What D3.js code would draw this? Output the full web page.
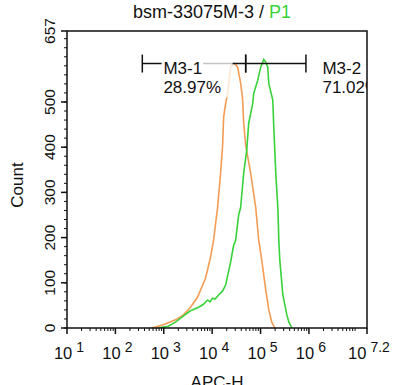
<!DOCTYPE html>
<head>
	<script src="https://d3js.org/d3.v7.min.js"></script>
	<style>
		body { margin: 0; background: #fff; }
		text { font-family: "Liberation Sans", Arial, sans-serif; fill: #111; }
	</style>
</head>
<body>
<svg></svg>
<script>
	// APC-H value, count
	var orange = [[527,0],[670,2],[982,7],[1742,18],[2552,29],[3566,46],[4980,68],[7295,110],[9268,157],
		[10690,194],[12950,267],[14930,342],[16440,404],[17250,466],[18970,497],[20890,519],[24100,577],
		[26500,585],[29170,585],[33650,577],[38820,541],[42760,504],[44800,453],[49300,404],[62650,342],
		[79400,267],[91800,194],[105900,150],[128200,84],[147900,40],[170600,13],[197000,0]];
	var green = [[773,0],[982,2],[1245,4],[1742,13],[2552,27],[3566,38],[5224,46],[6500,52],[8035,62],[9000,58],
		[10190,66],[11500,64],[13580,73],[16440,82],[18970,95],[24100,146],[27800,183],[30550,194],[35300,250],
		[38820,267],[44800,342],[51750,393],[56900,453],[68900,497],[72300,519],[87500,548],[101000,577],
		[116500,594],[128200,588],[141000,577],[147900,541],[179000,504],[187800,444],[197000,393],
		[206600,342],[227500,267],[238600,194],[250000,150],[289000,73],[350000,29],[384600,13],[443600,0]];
	var xExps = [1, 2, 3, 4, 5, 6, 7.2];
	var yTicks = [0, 100, 200, 300, 400, 500, 657];
	var gates = [
		{ name: "M3-1", pct: "28.97%", from: 360, to: 49300, labelX: 982, boxTo: 26500 },
		{ name: "M3-2", pct: "71.02%", from: 49300, to: 867000, labelX: 1900000, boxTo: 20000000 }
	];
	var gateY = 585;

	var width = 400, height = 385;
	var pL = 67, pT = 31, pR = 367, pB = 328;

	var x = d3.scaleLog().domain([10, Math.pow(10, 7.2)]).range([pL, pR]);
	var y = d3.scaleLinear().domain([0, 657]).range([pB, pT]);

	var svg = d3.select("svg").attr("width", width).attr("height", height);

	svg.append("clipPath").attr("id", "clip")
		.append("rect").attr("x", pL).attr("y", pT).attr("width", pR - pL).attr("height", pB - pT);

	var plot = svg.append("g").attr("clip-path", "url(#clip)");

	var line = d3.line()
		.x(function(d) { return x(d[0]); })
		.y(function(d) { return y(d[1]); });

	plot.append("path").datum(orange).attr("d", line)
		.attr("fill", "none").attr("stroke", "#f39c55").attr("stroke-width", 1.6);
	plot.append("path").datum(green).attr("d", line)
		.attr("fill", "none").attr("stroke", "#3ad23a").attr("stroke-width", 1.6);

	// gates
	gates.forEach(function(g) {
		plot.append("line")
			.attr("x1", x(g.from)).attr("x2", x(g.to))
			.attr("y1", y(gateY)).attr("y2", y(gateY))
			.attr("stroke", "#111").attr("stroke-width", 1.5);
		[g.from, g.to].forEach(function(v) {
			plot.append("line")
				.attr("x1", x(v)).attr("x2", x(v))
				.attr("y1", y(gateY) - 9).attr("y2", y(gateY) + 9)
				.attr("stroke", "#111").attr("stroke-width", 1.5);
		});
	});
	gates.forEach(function(g) {
		var lx = x(g.labelX);
		plot.append("rect")
			.attr("x", lx - 2).attr("y", y(gateY) - 8)
			.attr("width", x(g.boxTo) - lx + 2).attr("height", 42)
			.attr("fill", "#fff").attr("opacity", 0.75);
		var bg = plot.append("rect").attr("fill", "#fff");
		var nm = plot.append("text").attr("x", lx).attr("y", y(gateY) + 10)
			.attr("font-size", 17).text(g.name);
		var b = nm.node().getBBox();
		bg.attr("x", b.x - 1).attr("y", b.y).attr("width", b.width + 2).attr("height", b.height);
		plot.append("text").attr("x", lx).attr("y", y(gateY) + 29)
			.attr("font-size", 17).text(g.pct);
	});

	// frame
	svg.append("rect").attr("x", pL).attr("y", pT)
		.attr("width", pR - pL).attr("height", pB - pT)
		.attr("fill", "none").attr("stroke", "#111").attr("stroke-width", 1.5);

	// x axis ticks
	var minor = [];
	for (var e = 1; e < 8; e++) {
		for (var k = 2; k < 10; k++) {
			var v = k * Math.pow(10, e);
			if (v < Math.pow(10, 7.2)) minor.push(v);
		}
	}
	svg.selectAll(".xminor").data(minor).enter().append("line")
		.attr("x1", function(d) { return x(d); }).attr("x2", function(d) { return x(d); })
		.attr("y1", pB).attr("y2", pB + 3)
		.attr("stroke", "#111").attr("stroke-width", 1);
	svg.selectAll(".xmajor").data(xExps).enter().append("line")
		.attr("x1", function(d) { return x(Math.pow(10, d)); }).attr("x2", function(d) { return x(Math.pow(10, d)); })
		.attr("y1", pB).attr("y2", pB + 6)
		.attr("stroke", "#111").attr("stroke-width", 1.5);
	var xl = svg.selectAll(".xlab").data(xExps).enter().append("text")
		.attr("x", function(d) { return x(Math.pow(10, d)) + 2; })
		.attr("y", 359)
		.attr("text-anchor", "middle")
		.attr("font-size", 16.5);
	xl.append("tspan").text("10");
	xl.append("tspan").attr("dx", 4).attr("dy", -7).attr("font-size", 14)
		.text(function(d) { return d; });

	// y axis ticks
	var yMinor = d3.range(0, 657, 20);
	svg.selectAll(".yminor").data(yMinor).enter().append("line")
		.attr("x1", pL - 3).attr("x2", pL)
		.attr("y1", function(d) { return y(d); }).attr("y2", function(d) { return y(d); })
		.attr("stroke", "#111").attr("stroke-width", 1);
	svg.selectAll(".ymajor").data(yTicks).enter().append("line")
		.attr("x1", pL - 6).attr("x2", pL)
		.attr("y1", function(d) { return y(d); }).attr("y2", function(d) { return y(d); })
		.attr("stroke", "#111").attr("stroke-width", 1.5);
	svg.selectAll(".ylab").data(yTicks).enter().append("text")
		.attr("transform", function(d) { return "translate(55," + y(d) + ") rotate(-90)"; })
		.attr("text-anchor", "middle")
		.attr("font-size", 15.5)
		.text(function(d) { return d; });

	// titles
	var t = svg.append("text").attr("x", 212).attr("y", 18)
		.attr("text-anchor", "middle").attr("font-size", 18);
	t.append("tspan").text("bsm-33075M-3 / ");
	t.append("tspan").style("fill", "#3ad23a").text("P1");

	svg.append("text").attr("x", 217).attr("y", 388)
		.attr("text-anchor", "middle").attr("font-size", 17).text("APC-H");
	svg.append("text").attr("transform", "translate(23,185) rotate(-90)")
		.attr("text-anchor", "middle").attr("font-size", 17).text("Count");
</script>
</body>
</html>
